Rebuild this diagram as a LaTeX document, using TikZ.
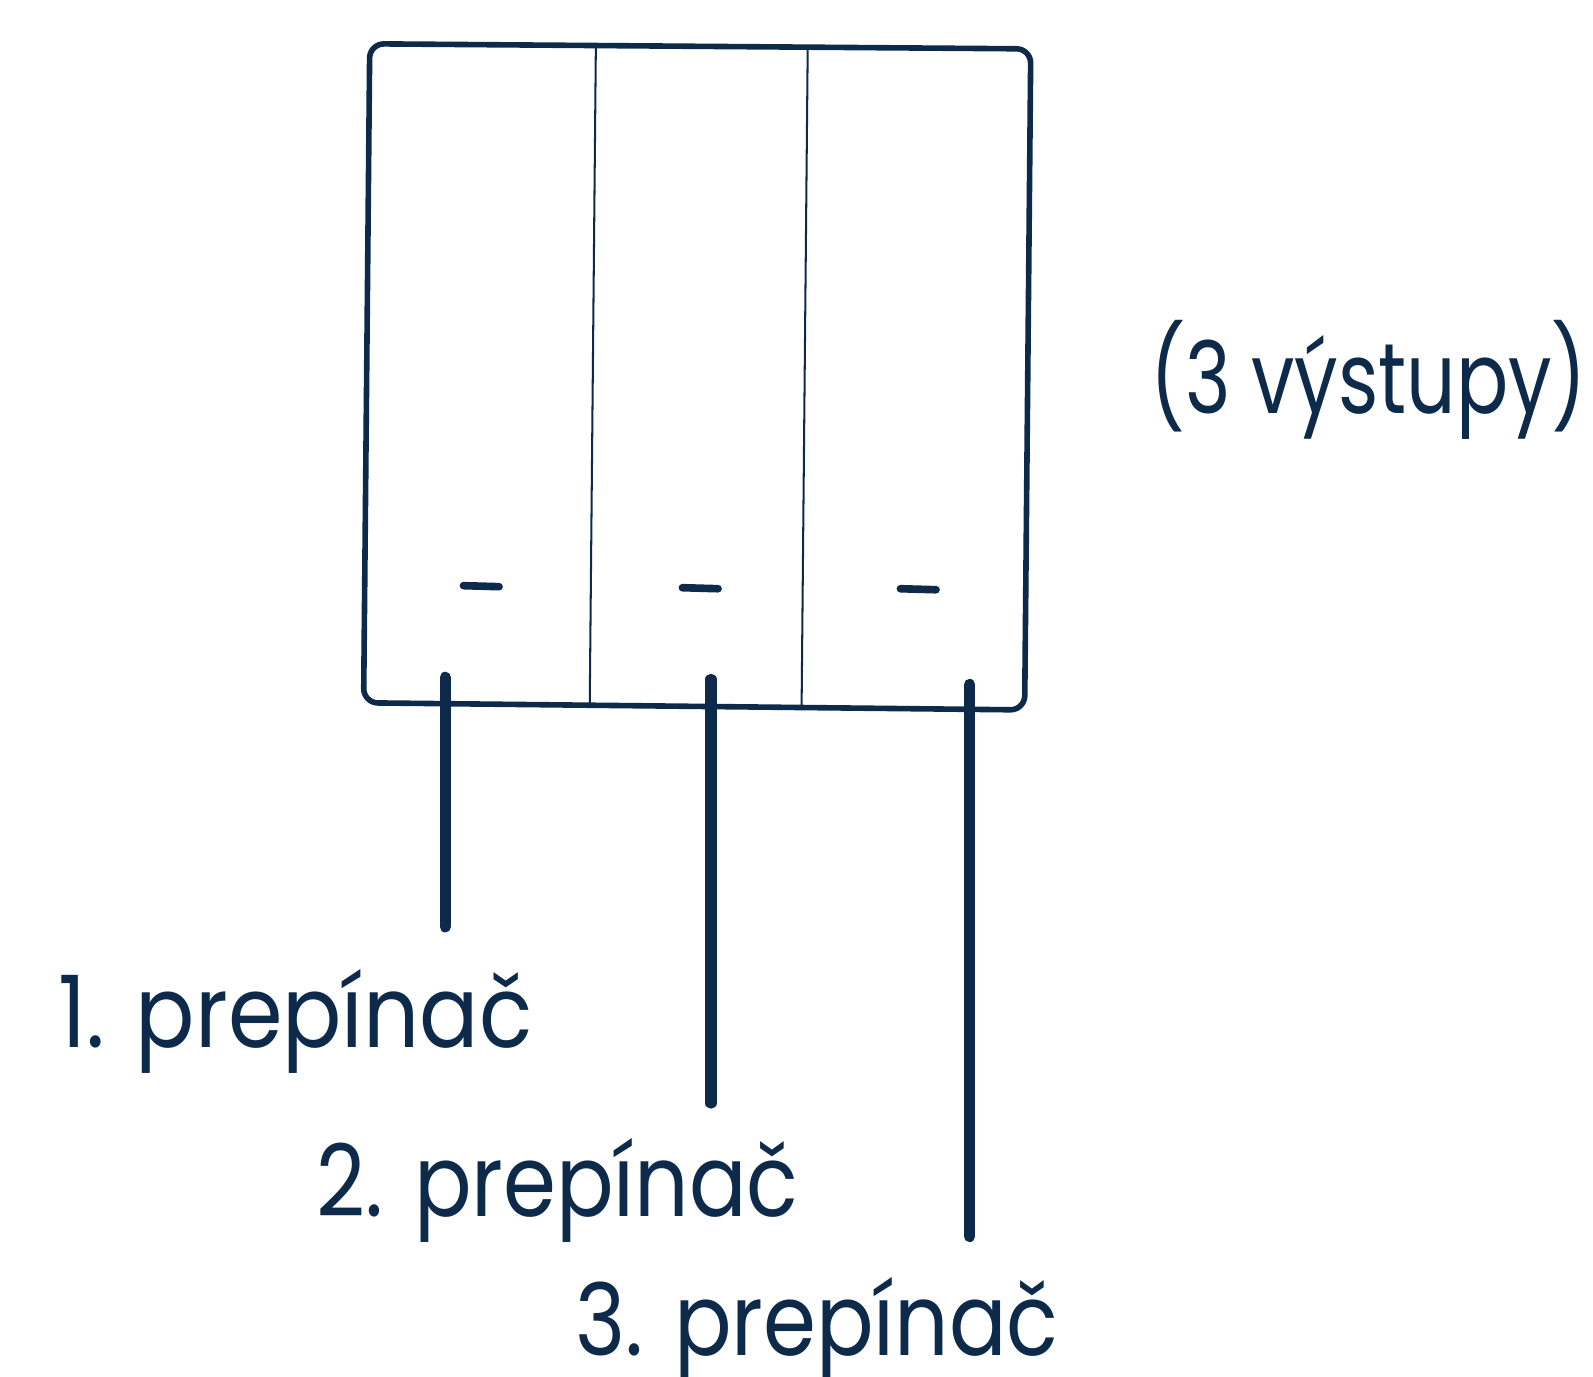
\documentclass[tikz,border=0pt]{standalone}
\usepackage{fontspec}
\setmainfont{Poppins}[FakeStretch=0.88]
\definecolor{navy}{HTML}{0D2A4A}
\begin{document}
\begin{tikzpicture}[x=1pt,y=-1pt,
  frame/.style={draw=navy,line width=5.5pt,rounded corners=14pt,line join=round},
  divider/.style={draw=navy,line width=2pt},
  dashmark/.style={draw=navy,line width=7.5pt,line cap=round},
  lead/.style={draw=navy,line width=11pt,line cap=round},
  label/.style={anchor=base west,inner sep=0pt,text=navy,font=\fontsize{98}{110}\selectfont}]
\useasboundingbox (0,0) rectangle (1564,1351);
% box
\coordinate (tl) at (363,43);
\coordinate (tr) at (1012,48);
\coordinate (br) at (1006,697);
\coordinate (bl) at (357,690);
\draw[frame] (tl) -- (tr) -- (br) -- (bl) -- cycle;
% dividers
\coordinate (d1t) at (585,46);
\coordinate (d1b) at (579,692);
\coordinate (d2t) at (793,47);
\coordinate (d2b) at (787,694);
\draw[divider] (d1t) -- (d1b);
\draw[divider] (d2t) -- (d2b);
% dashes
\coordinate (m1a) at (455,575);
\coordinate (m1b) at (490,576);
\coordinate (m2a) at (670,577);
\coordinate (m2b) at (705,578);
\coordinate (m3a) at (884,578);
\coordinate (m3b) at (919,579);
\draw[dashmark] (m1a) -- (m1b);
\draw[dashmark] (m2a) -- (m2b);
\draw[dashmark] (m3a) -- (m3b);
% leads
\coordinate (l1t) at (437,665);
\coordinate (l1b) at (437,910);
\coordinate (l2t) at (698,667);
\coordinate (l2b) at (698,1083);
\coordinate (l3t) at (952,672);
\coordinate (l3b) at (952,1214);
\draw[lead] (l1t) -- (l1b);
\draw[lead] (l2t) -- (l2b);
\draw[lead] (l3t) -- (l3b);
% labels
\node[label] (t1) at (57,1028) {1. prepínač};
\node[label] (t2) at (311,1194) {\scalebox{0.97}[1]{2. prepínač}};
\node[label] (t3) at (565,1331) {\scalebox{0.97}[1]{3. prepínač}};
\node[label] (t0) at (1129,406) {\scalebox{0.88}[1]{(3 výstupy)}};
\end{tikzpicture}
\end{document}
